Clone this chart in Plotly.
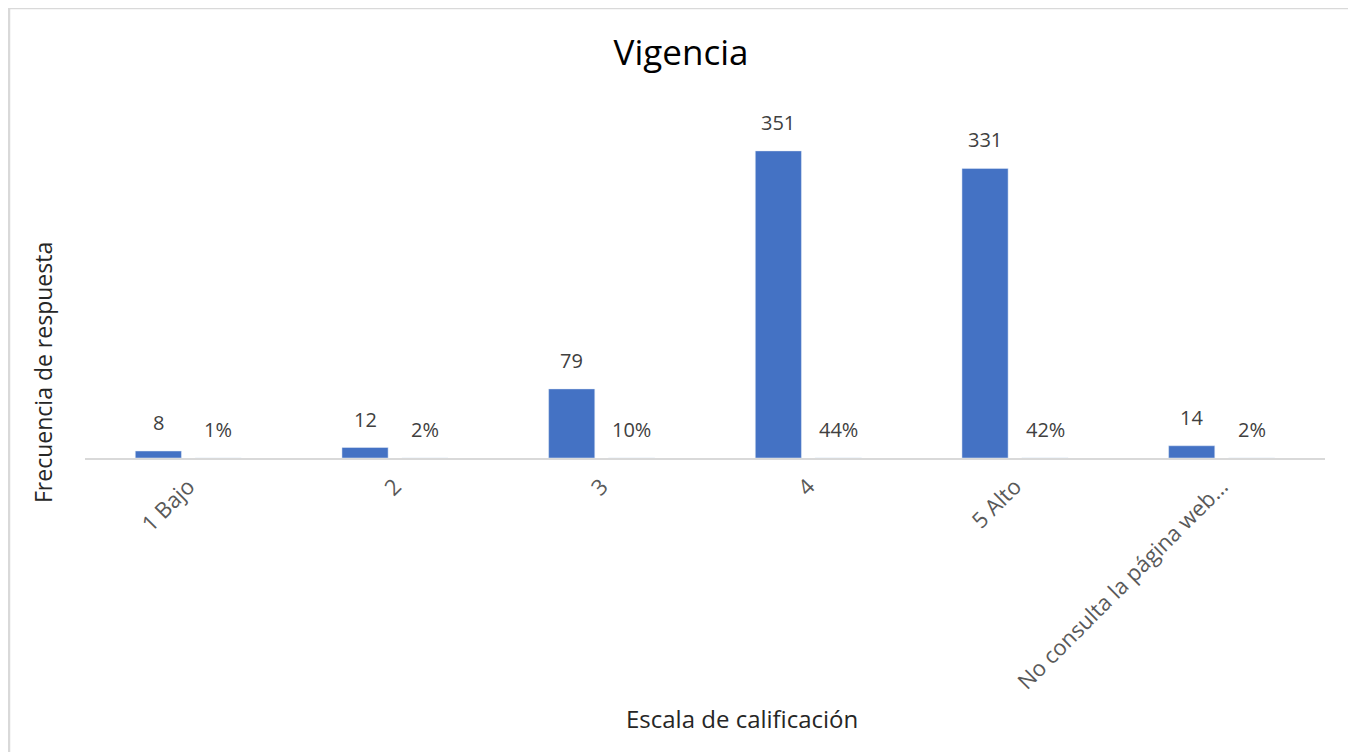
import plotly.graph_objects as go

categories = ["1 Bajo", "2", "3", "4", "5 Alto", "No consulta la página web..."]
frecuencia = [8, 12, 79, 351, 331, 14]
porcentaje = [0.01, 0.02, 0.10, 0.44, 0.42, 0.02]

BLUE = "#4472C4"
FONT = "Open Sans"

# the page body has an 8px margin, so work in page pixels and shift
OFF = 8
W, H = 1356 - OFF, 752 - OFF
L, T = 85 - OFF, 108 - OFF
pw, ph = 1240, 350
R, B = W - L - pw, H - T - ph


def px_x(x):
    return (x - OFF - L) / pw


def px_y(y):
    return (H - B - (y - OFF)) / ph


fig = go.Figure()
fig.add_trace(go.Bar(x=categories, y=frecuencia, marker_color=BLUE, name="Frecuencia"))
fig.add_trace(go.Bar(x=categories, y=porcentaje, marker_color="rgba(0,0,0,0)", name="Porcentaje"))

label_font = dict(family=FONT, size=20, color="#404040")
annotations = []
for i, (v, p) in enumerate(zip(frecuencia, porcentaje)):
    annotations.append(dict(x=i, y=v, xshift=-30, yshift=13, text=str(v), showarrow=False,
                            yanchor="bottom", font=label_font))
    annotations.append(dict(x=i, y=p, xshift=30, yshift=13, text=f"{p:.0%}", showarrow=False,
                            yanchor="bottom", font=label_font))

annotations.append(dict(xref="paper", yref="paper", x=px_x(742), y=px_y(718), text="Escala de calificación",
                        xanchor="center", yanchor="middle", showarrow=False,
                        font=dict(family=FONT, size=24, color="#262626")))
annotations.append(dict(xref="paper", yref="paper", x=px_x(43), y=px_y(373), text="Frecuencia de respuesta",
                        textangle=-90, xanchor="center", yanchor="middle", showarrow=False,
                        font=dict(family=FONT, size=23, color="#262626")))

fig.update_layout(
    width=W, height=H,
    margin=dict(l=L, r=R, t=T, b=B),
    plot_bgcolor="white", paper_bgcolor="white",
    barmode="group", bargap=0.42, bargroupgap=0.23,
    showlegend=False,
    title=dict(text="Vigencia", x=(681 - OFF) / W, xanchor="center", y=1 - (53 - OFF) / H, yanchor="middle",
               font=dict(family=FONT, size=35, color="#000000")),
    annotations=annotations,
    shapes=[dict(type="rect", xref="paper", yref="paper", x0=px_x(9), x1=px_x(1353),
                 y0=px_y(800), y1=px_y(8), line=dict(color="#d9d9d9", width=2.5))],
)
fig.update_xaxes(showline=True, linecolor="#d9d9d9", linewidth=2, tickangle=-45, ticks="",
                 ticklabelstandoff=5, showgrid=False,
                 tickfont=dict(family=FONT, size=22, color="#595959"))
fig.update_yaxes(range=[0, 400], showticklabels=False, showgrid=False, zeroline=False)

fig.write_html("out.html")
